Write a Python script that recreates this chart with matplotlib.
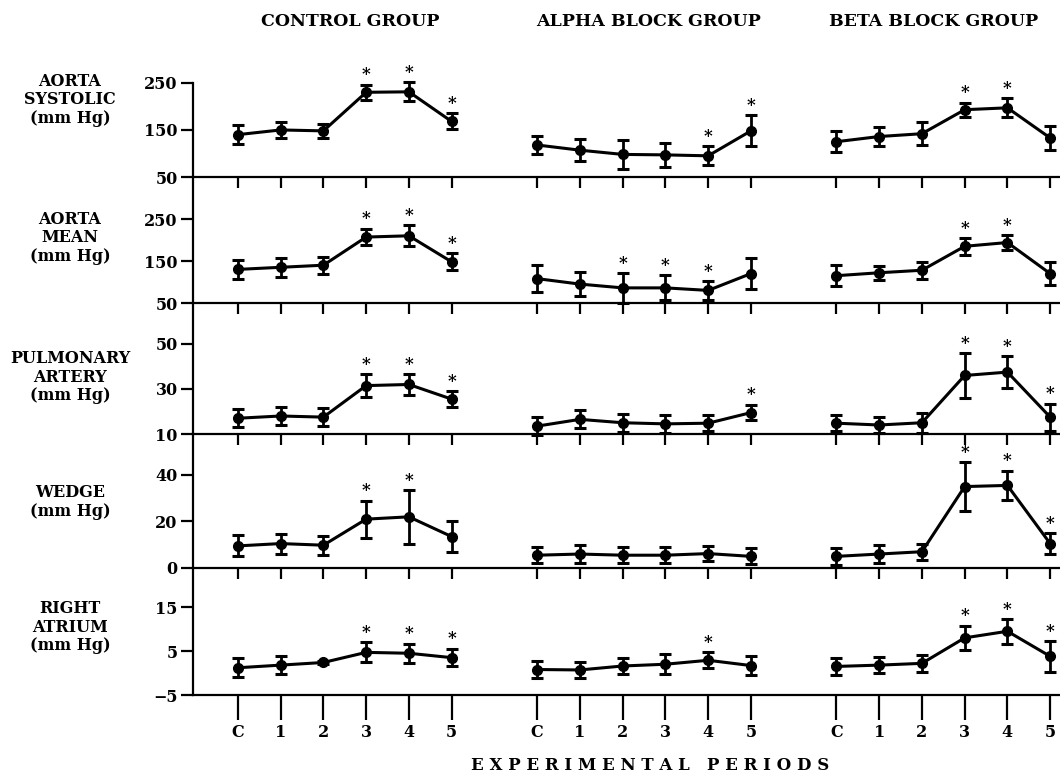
import numpy as np
import matplotlib.pyplot as plt

plt.rcParams["font.family"] = ["DejaVu Serif"]
plt.rcParams["font.weight"] = "bold"

PERIODS = ["C", "1", "2", "3", "4", "5"]
GROUPS = ["CONTROL GROUP", "ALPHA BLOCK GROUP", "BETA BLOCK GROUP"]

# each list: control, alpha block, beta block (mean, error, significant?)
AO_SYS_MEAN = [[140, 150, 148, 230, 231, 168],
               [118, 107, 98, 97, 95, 148],
               [125, 136, 142, 193, 197, 133]]
AO_SYS_ERR = [[20, 17, 15, 16, 20, 17],
              [20, 24, 30, 25, 20, 33],
              [22, 20, 24, 15, 20, 25]]
AO_SYS_SIG = [[0, 0, 0, 1, 1, 1], [0, 0, 0, 0, 1, 1], [0, 0, 0, 1, 1, 0]]

AO_MEAN_MEAN = [[130, 135, 140, 207, 210, 148],
                [108, 95, 86, 86, 80, 120],
                [115, 122, 128, 185, 194, 120]]
AO_MEAN_ERR = [[22, 22, 20, 20, 25, 20],
               [32, 28, 35, 30, 22, 37],
               [25, 17, 20, 20, 18, 28]]
AO_MEAN_SIG = [[0, 0, 0, 1, 1, 1], [0, 0, 1, 1, 1, 0], [0, 0, 0, 1, 1, 0]]

PA_MEAN = [[17, 18, 17.5, 31.5, 32, 25.5],
           [13.5, 16.5, 15, 14.5, 14.8, 19.5],
           [14.8, 14, 15, 36, 37.5, 17.5]]
PA_ERR = [[4, 4, 4, 5, 4.5, 3.5],
          [4, 4, 4, 4, 3.5, 3.5],
          [3.5, 3.5, 4.5, 10, 7, 6]]
PA_SIG = [[0, 0, 0, 1, 1, 1], [0, 0, 0, 0, 0, 1], [0, 0, 0, 1, 1, 1]]

WEDGE_MEAN = [[9.5, 10.5, 9.8, 21, 22, 13.5],
              [5.5, 6, 5.5, 5.5, 6.2, 5],
              [5, 6, 7, 35, 35.5, 10.5]]
WEDGE_ERR = [[4.5, 4.3, 4, 8, 11.5, 6.8],
             [3.5, 3.8, 3.4, 3.4, 3.4, 3.4],
             [3.8, 3.8, 3.4, 10.5, 6.4, 4.5]]
WEDGE_SIG = [[0, 0, 0, 1, 1, 0], [0, 0, 0, 0, 0, 0], [0, 0, 0, 1, 1, 1]]

RA_MEAN = [[1.2, 1.8, 2.4, 4.7, 4.5, 3.5],
           [0.8, 0.7, 1.6, 2.0, 2.9, 1.7],
           [1.5, 1.8, 2.2, 8.0, 9.5, 3.8]]
RA_ERR = [[2.2, 2.0, 0.4, 2.3, 2.2, 2.0],
          [1.9, 1.9, 1.8, 2.3, 1.8, 2.2],
          [1.9, 1.9, 1.9, 2.8, 2.8, 3.5]]
RA_SIG = [[0, 0, 0, 1, 1, 1], [0, 0, 0, 0, 1, 0], [0, 0, 0, 1, 1, 1]]

ROW_LABELS = ["AORTA\nSYSTOLIC\n(mm Hg)", "AORTA\nMEAN\n(mm Hg)",
              "PULMONARY\nARTERY\n(mm Hg)", "WEDGE\n(mm Hg)",
              "RIGHT\nATRIUM\n(mm Hg)"]
ROW_TICKS = [[50, 150, 250], [50, 150, 250], [10, 30, 50], [0, 20, 40], [-5, 5, 15]]
ROW_YLIM = [(50, 322), (50, 350), (10, 68.2), (0, 57.6), (-5, 23.9)]

rows = [(AO_SYS_MEAN, AO_SYS_ERR, AO_SYS_SIG),
        (AO_MEAN_MEAN, AO_MEAN_ERR, AO_MEAN_SIG),
        (PA_MEAN, PA_ERR, PA_SIG),
        (WEDGE_MEAN, WEDGE_ERR, WEDGE_SIG),
        (RA_MEAN, RA_ERR, RA_SIG)]

W, H = 1060, 773
fig = plt.figure(figsize=(W / 100, H / 100), dpi=100)
gs = fig.add_gridspec(5, 1, left=193 / W, right=1.0, top=1 - 49 / H,
                      bottom=1 - 695 / H, hspace=0,
                      height_ratios=[128, 126, 131, 134, 127])

xs_all = np.concatenate([np.arange(6) + 7 * g for g in range(3)])
label_y = [100, 238, 377, 502, 627]

for i, (means, errs, sigs) in enumerate(rows):
    ax = fig.add_subplot(gs[i])
    ax.set_facecolor("none")
    for g in range(3):
        x = np.arange(6) + 7 * g
        m = np.array(means[g], dtype=float)
        e = np.array(errs[g], dtype=float)
        ax.errorbar(x, m, yerr=e, color="black", lw=2.2, marker="o", ms=7,
                    elinewidth=2, capsize=4, capthick=2.2, clip_on=False)
        for xi, mi, ei, s in zip(x, m, e, sigs[g]):
            if s:
                ax.annotate("*", xy=(xi, mi + ei), xytext=(0, 1),
                            textcoords="offset points", ha="center",
                            va="bottom", fontsize=12, fontweight="bold")
    ax.set_xlim(-1.05, 19.23)
    ax.set_ylim(*ROW_YLIM[i])
    ax.set_yticks(ROW_TICKS[i])
    ax.set_xticks(xs_all)
    for side in ("top", "right"):
        ax.spines[side].set_visible(False)
    ax.spines["left"].set_linewidth(1.6)
    ax.spines["bottom"].set_linewidth(1.6)
    if i == 0:
        ax.spines["left"].set_bounds(50, 250)
    ax.tick_params(axis="y", direction="out", length=9, width=1.6, pad=2,
                   labelsize=11.5)
    if i == 4:
        ax.tick_params(axis="x", direction="out", length=18, width=1.6,
                       pad=3, labelsize=11.5)
        ax.set_xticklabels(PERIODS * 3)
    else:
        ax.tick_params(axis="x", direction="out", length=8, width=1.6,
                       labelbottom=False)
    for lab in ax.get_yticklabels() + ax.get_xticklabels():
        lab.set_fontweight("bold")
    fig.text(70 / W, 1 - label_y[i] / H, ROW_LABELS[i], ha="center",
             va="center", fontsize=11.5, linespacing=1.15)

for name, xc in zip(GROUPS, [350, 648, 934]):
    fig.text(xc / W, 1 - 22 / H, name, ha="center", va="center", fontsize=12.5)

fig.text(650 / W, 1 - 765 / H, " ".join("EXPERIMENTAL PERIODS"), ha="center",
         va="center", fontsize=12)

fig.savefig("out.png", dpi=100)
